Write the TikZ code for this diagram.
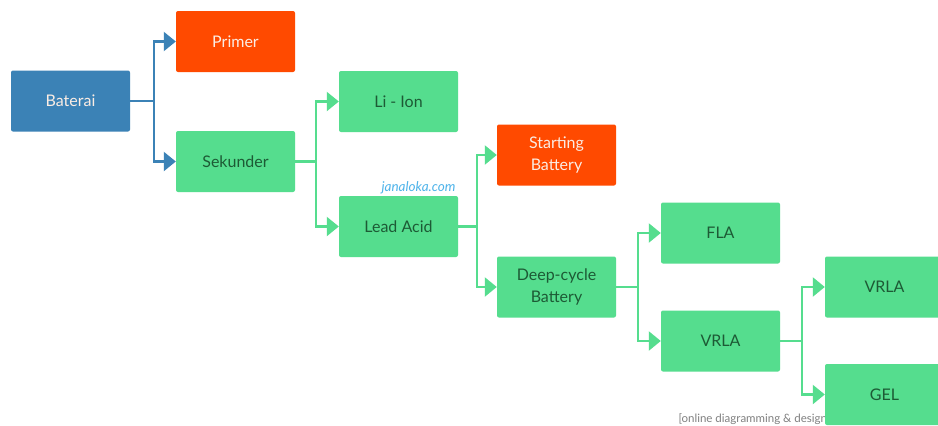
\documentclass[tikz,border=0pt]{standalone}
\usepackage{fontspec}
\setmainfont{Lato}
\usetikzlibrary{arrows.meta}
\definecolor{bblue}{HTML}{3B82B6}
\definecolor{bred}{HTML}{FF4A00}
\definecolor{bgreen}{HTML}{55DD8E}
\definecolor{tgreen}{HTML}{1D5A35}
\definecolor{tlight}{HTML}{FBEDE4}
\definecolor{wmblue}{HTML}{4DB3EA}
\tikzset{
  box/.style={minimum width=119pt, minimum height=61pt, rounded corners=2pt, inner sep=0pt, align=center,
    font=\fontsize{16}{22}\selectfont},
  gbox/.style={box, fill=bgreen, text=tgreen},
  rbox/.style={box, fill=bred, text=tlight},
  bbox/.style={box, fill=bblue, text=tlight},
  conn/.style={line width=2.2pt, draw=bgreen, -{Triangle[length=12pt,width=19pt]}},
  bconn/.style={conn, draw=bblue},
}
\begin{document}
\begin{tikzpicture}[x=1pt,y=-1pt]
\useasboundingbox (0,0) rectangle (938,426);
\clip (0,0) rectangle (938,426);
\fill[white] (0,0) rectangle (938,426);
\node[anchor=base west, text=black!50, font=\fontsize{11.5}{13}\selectfont] (wm) at (675,422) {[online diagramming \& design]};
\node[anchor=base east, text=wmblue, font=\itshape\fontsize{13.5}{15}\selectfont] (jl) at (459,191) {janaloka.com};

\node[bbox] (bat) at (70.5,101) {Baterai};
\node[rbox] (pri) at (235.5,41.5) {Primer};
\node[gbox] (sek) at (235.5,161.5) {Sekunder};
\node[gbox] (li) at (398.5,101.5) {Li - Ion};
\node[gbox] (lead) at (398.5,226.5) {Lead Acid};
\node[rbox] (start) at (556.5,155) {Starting\\Battery};
\node[gbox] (deep) at (556.5,287) {Deep-cycle\\Battery};
\node[gbox] (fla) at (720.5,233) {FLA};
\node[gbox] (vrla) at (720.5,341) {VRLA};
\node[gbox] (vrla2) at (884.5,287) {VRLA};
\node[gbox] (gel) at (884.5,394.5) {GEL};

\draw[bconn] (bat.east) -- ++(24,0) |- (pri.west);
\draw[bconn] (bat.east) -- ++(24,0) |- (sek.west);
\draw[conn] (sek.east) -- ++(21,0) |- (li.west);
\draw[conn] (sek.east) -- ++(21,0) |- (lead.west);
\draw[conn] (lead.east) -- ++(19,0) |- (start.west);
\draw[conn] (lead.east) -- ++(19,0) |- (deep.west);
\draw[conn] (deep.east) -- ++(22,0) |- (fla.west);
\draw[conn] (deep.east) -- ++(22,0) |- (vrla.west);
\draw[conn] (vrla.east) -- ++(22,0) |- (vrla2.west);
\draw[conn] (vrla.east) -- ++(22,0) |- (gel.west);
\end{tikzpicture}
\end{document}
